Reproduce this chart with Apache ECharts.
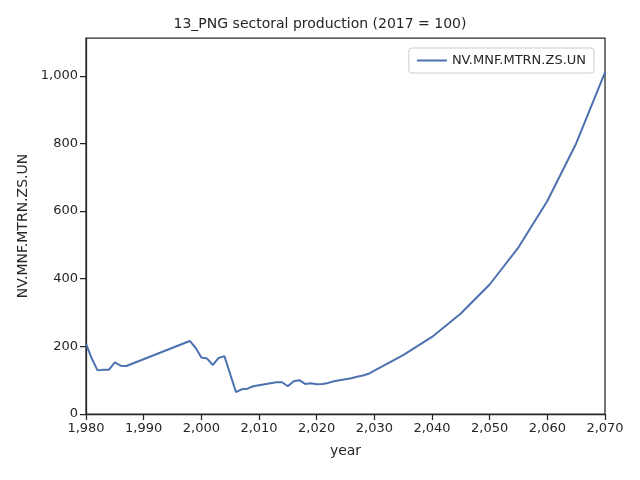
<!DOCTYPE html>
<html>
<head>
<meta charset="utf-8">
<script src="https://cdn.jsdelivr.net/npm/echarts@6/dist/echarts.min.js"></script>
<style>html,body{margin:0;padding:0;background:#fff}#c{width:640px;height:480px}</style>
</head>
<body>
<div id="c"></div>
<script>
var years = [1980,1981,1982,1983,1984,1985,1986,1987,1998,1999,2000,2001,2002,2003,2004,2006,2007,2008,2009,2010,
  2011,2012,2013,2014,2015,2016,2017,2018,2019,2020,2021,2022,2023,2024,2025,2026,2027,2028,2029,2030,
  2035,2040,2045,2050,2055,2060,2065,2070];
var values = [208,164,129,131,131,153,143,142,216,196,167,164,145,166,171,65,73,75,82,85,
  88,91,94,94,82,97,100,89,91,88,89,92,97,100,103,106,110,114,119,128,
  174,228,297,383,493,630,800,1010];
var seriesName = 'NV.MNF.MTRN.ZS.UN';

var pts = years.map(function(y, i){ return [y, values[i]]; });
var chart = echarts.init(document.getElementById('c'));
var axisCommon = {
  axisLine: {show: true, onZero: false, lineStyle: {color: '#262626', width: 1.25}},
  axisTick: {show: true, length: 6, lineStyle: {color: '#262626', width: 1.25}},
  axisLabel: {color: '#262626', fontSize: 13, fontFamily: 'DejaVu Sans'},
  splitLine: {show: false},
  nameTextStyle: {color: '#262626', fontSize: 14, fontFamily: 'DejaVu Sans'}
};
chart.setOption({
  animation: false,
  title: {text: '13_PNG sectoral production (2017 = 100)', left: 'center', top: 12,
    textStyle: {fontSize: 14, fontWeight: 'normal', color: '#262626', fontFamily: 'DejaVu Sans'}},
  legend: {data: [seriesName], right: 46, top: 48, orient: 'vertical',
    borderColor: '#cccccc', borderWidth: 1, borderRadius: 3, padding: [6, 8],
    itemWidth: 30, itemHeight: 2, icon: 'rect',
    textStyle: {fontSize: 13, color: '#262626', fontFamily: 'DejaVu Sans'}},
  grid: {left: 86, right: 35, top: 38, bottom: 66, show: true, borderColor: '#262626', borderWidth: 1.25},
  xAxis: Object.assign({}, axisCommon, {type: 'value', min: 1980, max: 2070, interval: 10,
    name: 'year', nameLocation: 'middle', nameGap: 30}),
  yAxis: Object.assign({}, axisCommon, {type: 'value', min: 0, max: 1112, interval: 200,
    name: seriesName, nameLocation: 'middle', nameGap: 50,
    axisLabel: Object.assign({}, axisCommon.axisLabel, {showMaxLabel: false})}),
  series: [{name: seriesName, type: 'line', data: pts, showSymbol: false, smooth: false,
    lineStyle: {color: '#4c72b0', width: 2}, itemStyle: {color: '#4c72b0'}}]
});
</script>
</body>
</html>
